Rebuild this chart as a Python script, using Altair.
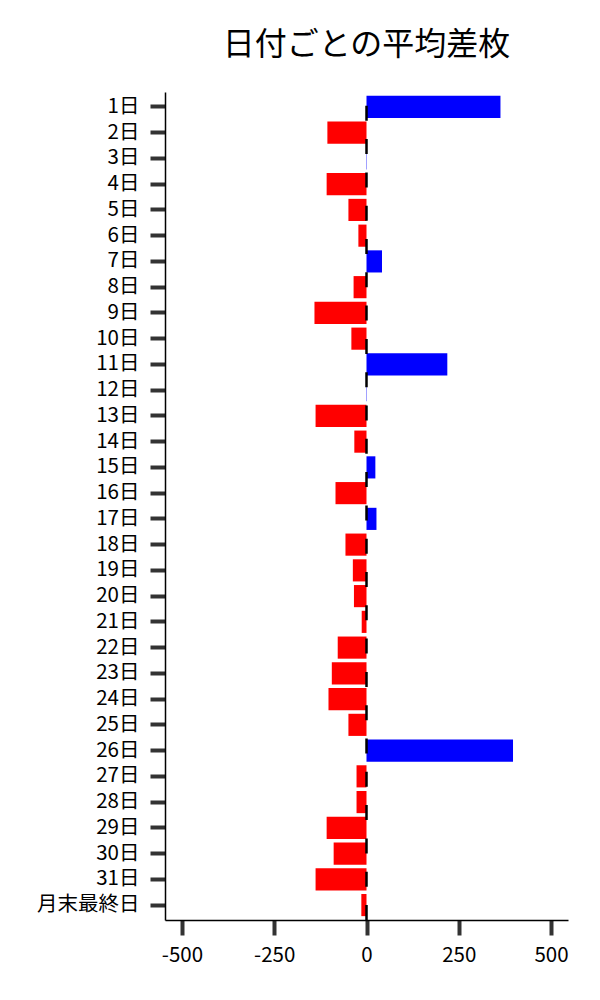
import altair as alt
import pandas as pd

days = [f"{i}日" for i in range(1, 32)] + ["月末最終日"]
values = [363, -106, 1, -108, -49, -22, 42, -35, -141, -41,
          219, 1, -138, -33, 24, -84, 27, -57, -37, -34,
          -13, -78, -94, -103, -49, 397, -27, -27, -108, -89,
          -138, -14]
x_ticks = [-500, -250, 0, 250, 500]
title_text = "日付ごとの平均差枚"

df = pd.DataFrame({"day": days, "value": values})
df["sign"] = ["pos" if v >= 0 else "neg" for v in values]

FONT = "Noto Sans CJK JP"
W, H = 403, 828

bars = alt.Chart(df).mark_bar(orient="horizontal").encode(
    y=alt.Y("day:N", sort=days,
            scale=alt.Scale(paddingInner=0.14, paddingOuter=0.15),
            axis=alt.Axis(title=None, labelFontSize=20.5, labelFont=FONT,
                          labelColor="black", labelPadding=11,
                          tickSize=15, tickWidth=4, tickColor="#333333",
                          domainColor="black", domainWidth=1.5)),
    x=alt.X("value:Q", scale=alt.Scale(domain=[-546, 546], nice=False, zero=False),
            axis=alt.Axis(title=None, values=x_ticks, labelFontSize=20.5, labelFont=FONT,
                          labelColor="black", labelPadding=10, grid=False,
                          labelExpr="datum.value < 0 ? '-' + format(-datum.value, 'd') : format(datum.value, 'd')",
                          tickSize=15, tickWidth=4, tickColor="#333333",
                          domainColor="black", domainWidth=1.5)),
    color=alt.Color("sign:N", scale=alt.Scale(domain=["pos", "neg"], range=["#0000ff", "#ff0000"]),
                    legend=None),
)

zero_df = pd.DataFrame({"x": [0]})
rule = alt.Chart(zero_df).mark_rule(color="black", strokeWidth=2.5, strokeDash=[15, 18.3]).encode(
    x="x:Q",
    y=alt.value(H),
    y2=alt.value(0),
)

chart = alt.layer(bars, rule).properties(
    width=W, height=H,
    title=alt.TitleParams(title_text, fontSize=32, font=FONT, fontWeight="normal",
                          anchor="middle", frame="group", offset=29, color="black"),
    autosize=alt.AutoSizeParams(type="none"),
    padding={"left": 157, "top": 84, "right": 24, "bottom": 70},
).configure_view(stroke=None).configure_axis(domainCap="butt")

chart.save("out.html", embed_options={"renderer": "svg", "actions": False})
